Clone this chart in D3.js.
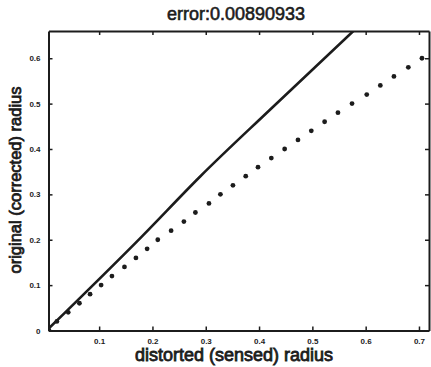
<!DOCTYPE html>
<html>
<head>
<meta charset="utf-8">
<script src="https://cdn.jsdelivr.net/npm/d3@7"></script>
<style>
  html, body { margin: 0; padding: 0; background: #fff; }
  svg { display: block; }
  text { font-family: "Liberation Sans", Arial, sans-serif; fill: #1c1c1c; }
</style>
</head>
<body>
<svg id="chart" width="431" height="367"></svg>
<script>
// ---- data ----
const titleText = "error:0.00890933";
const xLabel = "distorted (sensed) radius";
const yLabel = "original (corrected) radius";

// sampled points (dotted series): distorted radius vs original radius
const distortedRadius = [0.006, 0.0207, 0.042, 0.063, 0.083, 0.1037, 0.124, 0.1475, 0.169, 0.190,
  0.210, 0.235, 0.259, 0.2806, 0.306, 0.3275, 0.351, 0.375, 0.398, 0.423,
  0.448, 0.473, 0.498, 0.523, 0.548, 0.5744, 0.602, 0.6275, 0.653, 0.680, 0.7056];
const originalRadius = [0.0, 0.02, 0.04, 0.06, 0.08, 0.10, 0.12, 0.14, 0.16, 0.18,
  0.20, 0.22, 0.24, 0.26, 0.28, 0.30, 0.32, 0.34, 0.36, 0.38,
  0.40, 0.42, 0.44, 0.46, 0.48, 0.50, 0.52, 0.54, 0.56, 0.58, 0.60];

// solid curve
const curveDistorted = [0.005, 0.18, 0.29, 0.42, 0.577];
const curveOriginal  = [0.004, 0.207, 0.340, 0.486, 0.66];

const xTicks = [0.1, 0.2, 0.3, 0.4, 0.5, 0.6, 0.7];
const xTickLabels = ["0.1", "0.2", "0.3", "0.4", "0.5", "0.6", "0.7"];
const yTicks = [0, 0.1, 0.2, 0.3, 0.4, 0.5, 0.6];
const yTickLabels = ["0", "0.1", "0.2", "0.3", "0.4", "0.5", "0.6"];

const xDomain = [0.005, 0.7188];
const yDomain = [0, 0.66];

// ---- layout ----
const W = 431, H = 367;
const margin = { left: 48.5, right: 2, top: 31, bottom: 36.5 };
const ink = "#1c1c1c";

const svg = d3.select("#chart");
const x = d3.scaleLinear().domain(xDomain).range([margin.left, W - margin.right]);
const y = d3.scaleLinear().domain(yDomain).range([H - margin.bottom, margin.top]);

svg.append("defs").append("clipPath").attr("id", "clip")
  .append("rect")
  .attr("x", margin.left).attr("y", margin.top)
  .attr("width", W - margin.left - margin.right)
  .attr("height", H - margin.top - margin.bottom);

const plot = svg.append("g").attr("clip-path", "url(#clip)");

// solid line
const curvePts = curveDistorted.map((d, i) => [d, curveOriginal[i]]);
plot.append("path")
  .datum(curvePts)
  .attr("fill", "none")
  .attr("stroke", ink)
  .attr("stroke-width", 2.6)
  .attr("d", d3.line().x(d => x(d[0])).y(d => y(d[1])).curve(d3.curveMonotoneX));

// dots
const pts = distortedRadius.map((d, i) => [d, originalRadius[i]]);
plot.selectAll("circle.pt").data(pts).enter().append("circle")
  .attr("class", "pt")
  .attr("cx", d => x(d[0]))
  .attr("cy", d => y(d[1]))
  .attr("r", 2.4)
  .attr("fill", ink);

// axes (MATLAB-like box with inward ticks)
const tickLen = 4;
const axB = svg.append("g").attr("transform", `translate(0,${y.range()[0]})`)
  .call(d3.axisBottom(x).tickValues(xTicks).tickFormat((d, i) => xTickLabels[i]).tickSizeInner(-tickLen).tickSizeOuter(0).tickPadding(8));
const axT = svg.append("g").attr("transform", `translate(0,${y.range()[1]})`)
  .call(d3.axisTop(x).tickValues(xTicks).tickFormat("").tickSizeInner(-tickLen).tickSizeOuter(0));
const axL = svg.append("g").attr("transform", `translate(${x.range()[0]},0)`)
  .call(d3.axisLeft(y).tickValues(yTicks).tickFormat((d, i) => yTickLabels[i]).tickSizeInner(-tickLen).tickSizeOuter(0).tickPadding(8));
const axR = svg.append("g").attr("transform", `translate(${x.range()[1]},0)`)
  .call(d3.axisRight(y).tickValues(yTicks).tickFormat("").tickSizeInner(-tickLen).tickSizeOuter(0));

[axB, axT, axL, axR].forEach(a => {
  a.select(".domain").attr("stroke", ink).attr("stroke-width", 2);
  a.selectAll(".tick line").attr("stroke", ink).attr("stroke-width", 1.5);
  a.selectAll(".tick text").attr("font-size", 8).attr("font-weight", "bold")
    .attr("font-family", "'Liberation Sans', Arial, sans-serif").attr("fill", "#333");
});

// title and labels
svg.append("text")
  .attr("x", 236).attr("y", 20)
  .attr("text-anchor", "middle")
  .attr("font-size", 18)
  .attr("stroke", ink).attr("stroke-width", 0.6)
  .text(titleText);

svg.append("text")
  .attr("x", 234).attr("y", 361)
  .attr("text-anchor", "middle")
  .attr("font-size", 18)
  .attr("stroke", ink).attr("stroke-width", 0.8)
  .text(xLabel);

svg.append("text")
  .attr("transform", "translate(21,180) rotate(-90)")
  .attr("text-anchor", "middle")
  .attr("font-size", 16.5)
  .attr("stroke", ink).attr("stroke-width", 0.8)
  .text(yLabel);
</script>
</body>
</html>
